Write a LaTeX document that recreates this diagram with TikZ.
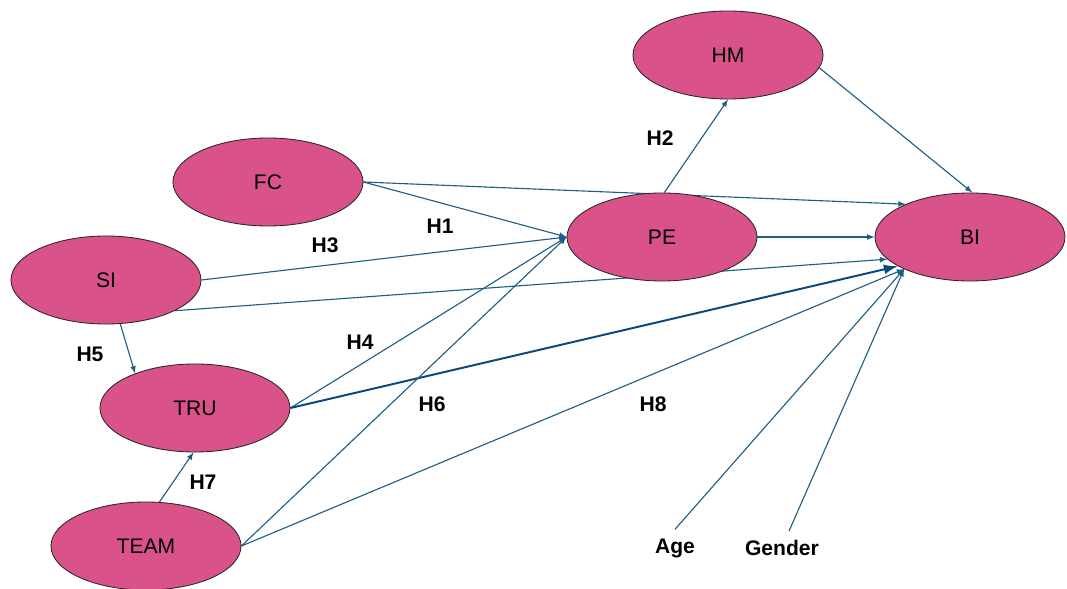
\documentclass[tikz,border=0pt]{standalone}
\usepackage{fontspec}
\setmainfont{Liberation Sans}
\usepackage{tikz}
\usetikzlibrary{shapes.geometric}
\usetikzlibrary{arrows}
\usetikzlibrary{arrows.meta}
\usetikzlibrary{backgrounds}
\usepackage{xcolor}
\definecolor{rosefill}{RGB}{217,82,137}
\definecolor{pathblue}{RGB}{31,94,132}
\definecolor{deepblue}{RGB}{14,72,122}
\tikzset{>=latex}

\begin{document}
\begin{tikzpicture}[x=0.025cm, y=-0.025cm]
                % constructs = pink ellipses, hyp = hypothesis labels (pixel coords)
                \tikzstyle{every node}=[font=\fontsize{15}{18}\selectfont]
                \tikzstyle{construct}=[ellipse, draw=black!85, line width=0.6pt, fill=rosefill, minimum width=4.75cm, minimum height=2.2cm, inner sep=0pt]
                \tikzstyle{hyp}=[font=\fontsize{15}{18}\selectfont\bfseries]
                \tikzstyle{every edge}=[pathblue, ->, line width=0.8pt, draw]
                \tikzstyle{strongpath}=[deepblue, line width=1.4pt, -{Latex[length=10pt,width=7pt]}]
                \useasboundingbox (0, 0) rectangle (1067, 589);

                \node[construct] (HM) at (728, 55) {HM};
                \node[construct] (FC) at (268, 182) {FC};
                \node[construct] (PE) at (662, 237) {PE};
                \node[construct] (BI) at (970, 237) {BI};
                \node[construct] (SI) at (106, 280) {SI};
                \node[construct] (TRU) at (195, 408) {TRU};
                \node[construct] (TEAM) at (146, 546) {TEAM};

                \node[hyp] (Age) at (675, 548) {Age};
                \node[hyp] (Gender) at (782, 548) {Gender};

                % hypotheses
                \node[hyp] (h1) at (440, 226) {H1};
                \node[hyp] (h2) at (660, 138) {H2};
                \node[hyp] (h3) at (325, 245) {H3};
                \node[hyp] (h4) at (360, 342) {H4};
                \node[hyp] (h5) at (90, 354) {H5};
                \node[hyp] (h6) at (432, 404) {H6};
                \node[hyp] (h7) at (203, 482) {H7};
                \node[hyp] (h8) at (653, 404) {H8};

                % paths
                \begin{scope}[on background layer]
                \draw (FC.east) edge (PE.west);
                \draw (FC.east) edge (BI.153);
                \draw (SI.east) edge (PE.west);
                \draw (SI.336) edge (BI.195);
                \draw (SI.288) edge (TRU.150);
                \draw (TRU.east) edge (PE.west);
                \draw (TRU.east) edge[strongpath] (BI.202);
                \draw (TEAM.73) edge (TRU.268);
                \draw (TEAM.east) edge (PE.west);
                \draw (TEAM.east) edge (BI.206);
                \draw ([yshift=3pt]Age.north) edge (BI.206);
                \draw ([xshift=5pt, yshift=3pt]Gender.north) edge (BI.206);
                \draw (PE.87) edge (HM.south);
                \draw (HM.352) edge (BI.87);
                \draw (PE.east) edge (BI.west);
                \end{scope}

        \end{tikzpicture}
\end{document}
